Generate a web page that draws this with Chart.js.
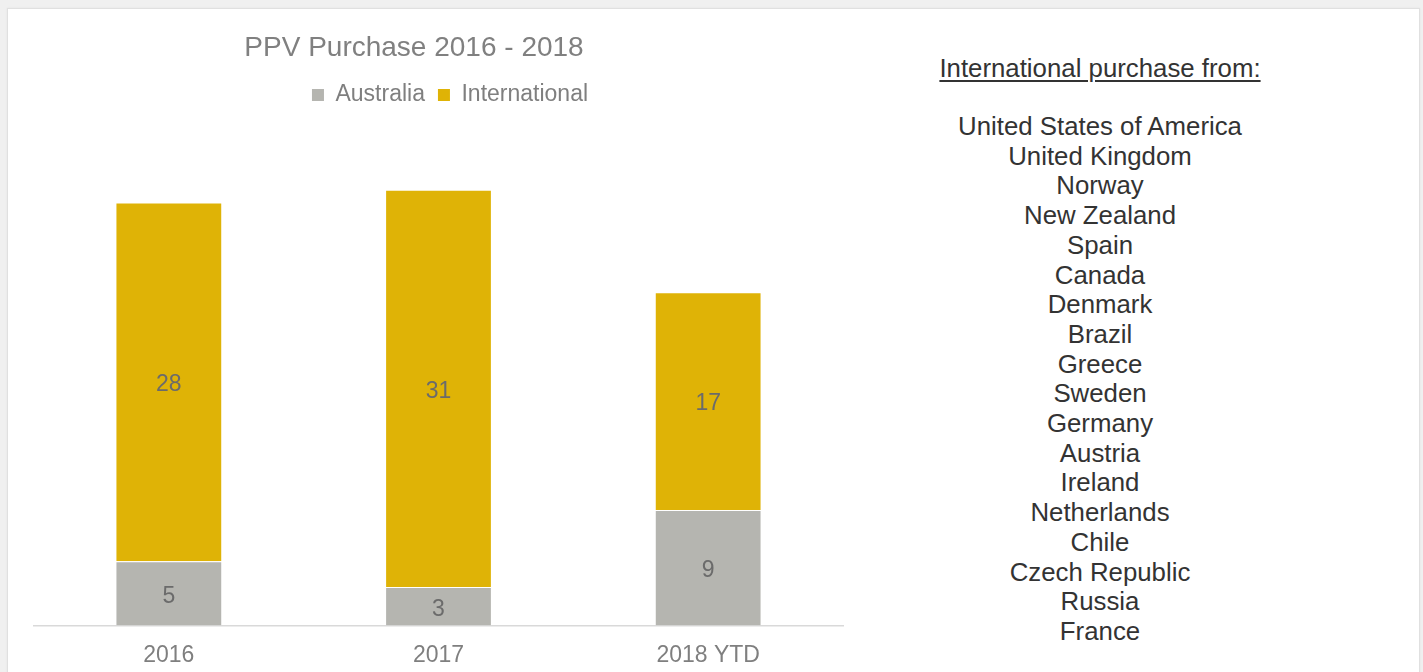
<!DOCTYPE html>
<html>
<head>
<meta charset="utf-8">
<script src="https://cdn.jsdelivr.net/npm/chart.js@4.4.1/dist/chart.umd.min.js"></script>
<style>
html, body { margin: 0; padding: 0; width: 1423px; height: 672px; overflow: hidden; background: #f0f0f0; font-family: 'Liberation Sans', Arial, sans-serif; }
#panel { position: absolute; left: 7px; top: 8px; width: 1411px; height: 700px; background: #fff; border: 1px solid #e0e0e0; box-shadow: 0 0 2px rgba(0,0,0,0.06); }
#chartBox { position: absolute; left: 0; top: 0; width: 866px; height: 690px; }
#heading { position: absolute; left: 900px; width: 400px; top: 54px; line-height: 29.7px; font-size: 25.8px; color: #333; text-align: center; text-decoration: underline; text-decoration-thickness: 1.5px; text-underline-offset: 3px; }
#countries { position: absolute; left: 900px; width: 400px; top: 112px; line-height: 29.7px; font-size: 25.8px; color: #333; text-align: center; }
</style>
</head>
<body>
<div id="panel"></div>
<div id="chartBox"><canvas id="chart"></canvas></div>
<div id="heading">International purchase from:</div>
<div id="countries"></div>
<script>
const categories = ['2016', '2017', '2018 YTD']
const australia = [5, 3, 9]
const international = [28, 31, 17]
const countries = ['United States of America', 'United Kingdom', 'Norway', 'New Zealand', 'Spain', 'Canada',
    'Denmark', 'Brazil', 'Greece', 'Sweden', 'Germany', 'Austria', 'Ireland', 'Netherlands', 'Chile',
    'Czech Republic', 'Russia', 'France']

document.getElementById('countries').innerHTML = countries.map(c => '<div>' + c + '</div>').join('')

const fontFamily = "'Liberation Sans', Arial, sans-serif"

// values written in the middle of each segment
const segmentLabels = {
    id: 'segmentLabels',
    afterDatasetsDraw(chart) {
        const ctx = chart.ctx
        ctx.save()
        ctx.font = '23px ' + fontFamily
        ctx.fillStyle = '#6b6b6b'
        ctx.textAlign = 'center'
        ctx.textBaseline = 'middle'
        chart.data.datasets.forEach((ds, i) => {
            chart.getDatasetMeta(i).data.forEach((bar, j) => {
                ctx.fillText(ds.data[j], bar.x, (bar.y + bar.base) / 2 + 3)
            })
        })
        ctx.restore()
    }
}

// title sits a bit left of the legend in the original
const titleShift = {
    id: 'titleShift',
    afterLayout(chart) {
        chart.titleBlock.left -= 72
    }
}

const canvasChart = document.getElementById('chart')

const myChart = new Chart(canvasChart, {
    type: 'bar',
    data: {
        labels: categories,
        datasets: [{
            label: 'Australia',
            data: australia,
            backgroundColor: '#b5b5b0',
            borderColor: 'rgba(255,255,255,0.5)',
            borderWidth: 1
        }, {
            label: 'International',
            data: international,
            backgroundColor: '#dfb306',
            borderColor: 'rgba(255,255,255,0.5)',
            borderWidth: 1
        }]
    },
    options: {
        responsive: true,
        maintainAspectRatio: false,
        animation: false,
        layout: { padding: { left: 34, right: 0, top: 0, bottom: 5 } },
        datasets: { bar: { categoryPercentage: 1, barPercentage: 0.396 } },
        scales: {
            x: {
                stacked: true,
                grid: { display: false, drawTicks: false },
                border: { display: true, color: '#d9d9d9', width: 1.5 },
                ticks: { color: '#7f7f7f', font: { size: 23, family: fontFamily }, padding: 16 }
            },
            y: {
                stacked: true,
                min: 0,
                max: 39.7,
                position: 'right',
                ticks: { display: false },
                grid: { display: false, drawTicks: false },
                border: { display: false },
                afterFit(scale) { scale.width = 23 }
            }
        },
        plugins: {
            title: {
                display: true,
                text: 'PPV Purchase 2016 - 2018',
                color: '#808080',
                font: { size: 28, weight: 'normal', family: fontFamily },
                padding: { top: 31, bottom: 6 }
            },
            legend: {
                labels: {
                    color: '#7f7f7f',
                    font: { size: 23, family: fontFamily },
                    boxWidth: 12,
                    boxHeight: 12,
                    padding: 13,
                    generateLabels(chart) {
                        return Chart.defaults.plugins.legend.labels.generateLabels(chart)
                            .map(l => Object.assign(l, { lineWidth: 0 }))
                    }
                }
            },
            tooltip: { enabled: false }
        }
    },
    plugins: [segmentLabels, titleShift]
})
</script>
</body>
</html>
